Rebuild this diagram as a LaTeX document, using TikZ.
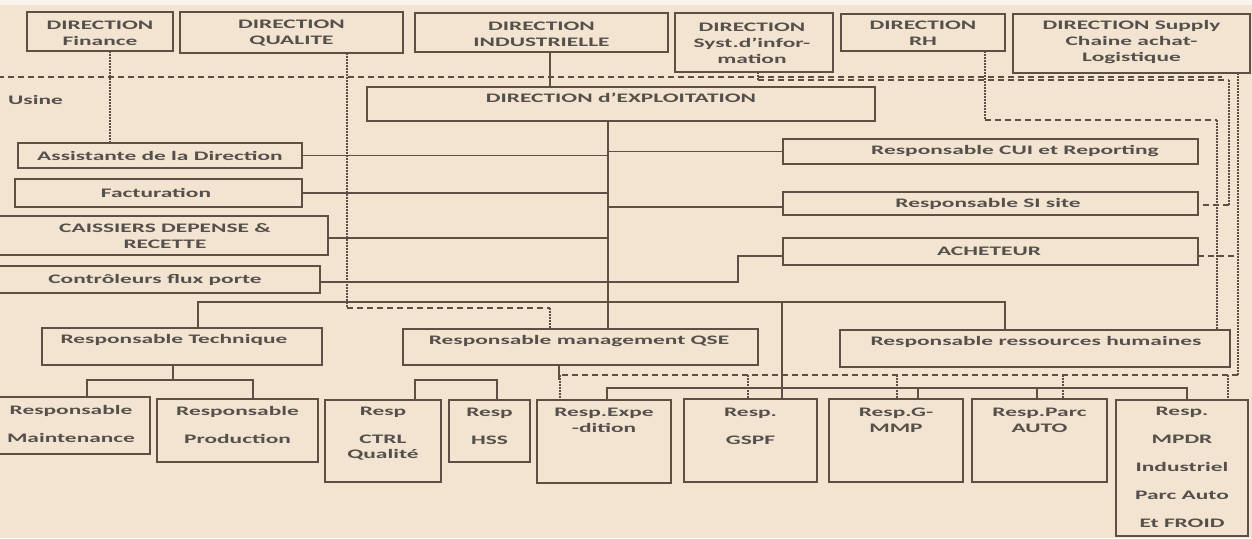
\documentclass[tikz,border=0pt]{standalone}
\usepackage{fontspec}
\newfontfamily\tf{Carlito}[FakeStretch=1.8]
\usetikzlibrary{calc}
\definecolor{bg}{RGB}{242,228,209}
\definecolor{ln}{RGB}{92,80,68}
\definecolor{tc}{RGB}{85,80,75}
\tikzset{
 bx/.style={draw=ln, line width=1.8pt, inner sep=0pt, outer sep=0pt},
 tx/.style={text=tc, font=\tf\bfseries\fontsize{13}{16}\selectfont, align=center, inner sep=0pt},
 con/.style={draw=ln, line width=1.4pt},
 dotl/.style={draw=ln, line width=1.8pt, dash pattern=on 1.6pt off 1.4pt},
 dashl/.style={draw=ln, line width=1.3pt, dash pattern=on 6pt off 4pt},
}
\newcommand\bx[5]{\node[bx, minimum width={(#4)-(#2)}, minimum height={(#5)-(#3)}] (#1) at ({((#2)+(#4))/2},{((#3)+(#5))/2}) {};}
\newcommand\tx[4]{\node[tx] (#1) at (#2,#3) {#4};}
\begin{document}
\begin{tikzpicture}[x=1pt,y=-1pt]
\useasboundingbox (0,0) rectangle (1252,538);
\fill[bg] (0,0) rectangle (1252,538);
\fill[white!60!bg] (0,0) rectangle (1252,5);
% boxes
\bx{fin}{27}{12}{173}{51} \tx{fint}{100}{33}{DIRECTION\\Finance}
\bx{qual}{180}{12}{403}{53} \tx{qualt}{291.5}{33.5}{DIRECTION\\QUALITE}
\bx{ind}{415}{13}{668}{52} \tx{indt}{541.5}{34}{DIRECTION\\INDUSTRIELLE}
\bx{si}{675}{13}{833}{72} \tx{sit}{752}{43.5}{DIRECTION\\Syst.d’infor-\\mation}
\bx{rh}{841}{14}{1005}{51} \tx{rht}{923}{33.5}{DIRECTION\\RH}
\bx{sup}{1013}{14}{1250}{73} \tx{supt}{1131.5}{42.5}{DIRECTION Supply\\Chaine achat-\\Logistique}
\node[tx, anchor=west] (usine) at (8,100) {Usine};
\bx{expl}{367}{87}{875}{121} \tx{explt}{621}{98}{DIRECTION d’EXPLOITATION}
\bx{asst}{18}{143}{302}{168} \tx{asstt}{160}{155.5}{Assistante de la Direction}
\bx{fact}{15}{179}{302}{207} \tx{factt}{156}{193}{Facturation}
\bx{cais}{-3}{216}{328}{255} \tx{caist}{165}{236}{CAISSIERS DEPENSE \&\\RECETTE}
\bx{ctrl}{-3}{266}{320}{293} \tx{ctrlt}{155}{280}{Contrôleurs flux porte}
\bx{cui}{783}{139}{1198}{164} \tx{cuit}{1015}{151}{Responsable CUI et Reporting}
\bx{sis}{783}{192}{1198}{215} \tx{sist}{988}{203.5}{Responsable SI site}
\bx{ach}{783}{238}{1198}{265} \tx{acht}{989}{251.5}{ACHETEUR}
\bx{tech}{42}{328}{322}{365} \tx{techt}{174}{340}{Responsable Technique}
\bx{qse}{403}{329}{758}{365} \tx{qset}{579}{341}{Responsable management QSE}
\bx{rhr}{840}{330}{1230}{367} \tx{rhrt}{1036}{342}{Responsable ressources humaines}
\bx{maint}{-3}{397}{150}{454} \tx{maintt}{71}{424}{Responsable\\[12pt]Maintenance}
\bx{prod}{157}{399}{318}{462} \tx{prodt}{237.5}{424.5}{Responsable\\[12pt]Production}
\bx{cq}{325}{400}{441}{482} \tx{cqt}{383}{434}{Resp\\[12pt]CTRL\\[-1pt]Qualité}
\bx{hss}{449}{400}{530}{462} \tx{hsst}{489.5}{426}{Resp\\[12pt]HSS}
\bx{exp}{537}{400}{671}{483} \tx{expt}{604}{420}{Resp.Expe\\-dition}
\bx{gspf}{684}{399}{817}{482} \tx{gspft}{750.5}{426}{Resp.\\[12pt]GSPF}
\bx{gmmp}{829}{399}{963}{482} \tx{gmmpt}{896}{420}{Resp.G-\\MMP}
\bx{parc}{972}{399}{1107}{482} \tx{parct}{1039.5}{420}{Resp.Parc\\AUTO}
\bx{mpdr}{1116}{400}{1248}{536} \tx{mpdrt}{1182}{467.5}{Resp.\\[12pt]MPDR\\[12pt]Industriel\\[12pt]Parc Auto\\[12pt]Et FROID}
% solid connectors
\coordinate (tk) at ($(expl.south)+(-13,0)$);
\draw[con] (tk) -- (tk |- qse.north);
\coordinate (i1) at ($(ind.south)+(8.5,0)$);
\draw[con] (i1) -- (i1 |- expl.north);
\draw[con] (asst.east) -- (asst.east -| tk);
\draw[con] (tk |- cui.west) -- (cui.west);
\draw[con] (fact.east) -- (fact.east -| tk);
\coordinate (s1) at ($(sis.west)+(0,3.5)$);
\draw[con] (tk |- s1) -- (s1);
\coordinate (c1) at ($(cais.east)+(0,2.5)$);
\draw[con] (c1) -- (c1 -| tk);
\coordinate (k1) at ($(ctrl.east)+(0,2.5)$);
\coordinate (k2) at ($(ach.west)+(0,4.5)$);
\coordinate (kb) at (738,0);
\draw[con] (k1) -- (k1 -| kb) -- (kb |- k2) -- (k2);
\coordinate (hb) at (0,302);
\coordinate (t1) at ($(tech.north)+(16,0)$);
\coordinate (r1) at ($(rhr.north)+(-30,0)$);
\draw[con] (t1) -- (t1 |- hb) -- (r1 |- hb) -- (r1);
\coordinate (g1) at ($(gspf.north)+(31.5,0)$);
\draw[con] (g1 |- hb) -- (g1);
\coordinate (t2) at ($(tech.south)+(-9,0)$);
\coordinate (tb) at (0,380);
\coordinate (m1) at ($(maint.north)+(13.5,0)$);
\coordinate (p1) at ($(prod.north)+(15.5,0)$);
\draw[con] (t2) -- (t2 |- tb);
\draw[con] (m1) -- (m1 |- tb) -- (p1 |- tb) -- (p1);
\coordinate (q2) at ($(qse.south)+(-21.5,0)$);
\coordinate (cq1) at ($(cq.north)+(32,0)$);
\coordinate (h1) at ($(hss.north)+(7.5,0)$);
\draw[con] (q2) -- (q2 |- tb);
\draw[con] (cq1) -- (cq1 |- tb) -- (h1 |- tb) -- (h1);
\coordinate (lb) at (0,388);
\coordinate (e1) at ($(exp.north)+(3,0)$);
\coordinate (gm1) at ($(gmmp.north)+(22,0)$);
\coordinate (pa1) at ($(parc.north)+(-2.5,0)$);
\coordinate (mp1) at ($(mpdr.north)+(5,0)$);
\draw[con] (e1) -- (e1 |- lb) -- (mp1 |- lb) -- (mp1);
\draw[con] (gm1) -- (gm1 |- lb);
\draw[con] (pa1) -- (pa1 |- lb);
% dashed / dotted
\coordinate (ua) at (-2,77); \coordinate (ub) at (1222,77);
\draw[dashl] (ua) -- (ub);
\coordinate (f1) at ($(fin.south)+(10,0)$);
\draw[dotl] (f1) -- (f1 |- asst.north);
\coordinate (ql1) at ($(qual.south)+(55.5,0)$);
\coordinate (qb) at (0,308);
\coordinate (ql2) at ($(qse.north)+(-30.5,0)$);
\draw[dotl] (ql1) -- (ql1 |- qb);
\draw[dashl] (ql1 |- qb) -- (ql2 |- qb);
\draw[dotl] (ql2 |- qb) -- (ql2);
\coordinate (si1) at ($(si.south)+(4,0)$);
\coordinate (sb) at (1229,80);
\coordinate (se) at ($(sis.east)+(0,1.5)$);
\draw[dotl] (si1) -- (si1 |- sb);
\draw[dashl] (si1 |- sb) -- (sb);
\draw[dotl] (sb) -- (sb |- se);
\draw[dashl] (sb |- se) -- (se);
\coordinate (rh1) at ($(rh.south)+(62,0)$);
\coordinate (rb) at (1217,120);
\coordinate (rh2) at ($(rhr.north)+(182,0)$);
\draw[dotl] (rh1) -- (rh1 |- rb);
\draw[dashl] (rh1 |- rb) -- (rb);
\draw[dotl] (rb) -- (rh2);
\coordinate (su1) at ($(sup.south)+(106.5,0)$);
\coordinate (db) at (0,375);
\coordinate (x1) at ($(exp.north)+(-44,0)$);
\coordinate (x2) at ($(gspf.north)+(-2.5,0)$);
\coordinate (x3) at ($(gmmp.north)+(1,0)$);
\coordinate (x4) at ($(parc.north)+(23.5,0)$);
\coordinate (x5) at ($(mpdr.north)+(46,0)$);
\draw[dotl] (su1) -- (su1 |- db);
\draw[dashl] (su1 |- db) -- (x1 |- db);
\foreach \p in {x1,x2,x3,x4,x5} {\draw[dotl] (\p |- db) -- (\p);}
\coordinate (a1) at ($(ach.east)+(0,4.5)$);
\draw[dashl] (a1) -- (a1 -| su1);
\end{tikzpicture}
\end{document}
